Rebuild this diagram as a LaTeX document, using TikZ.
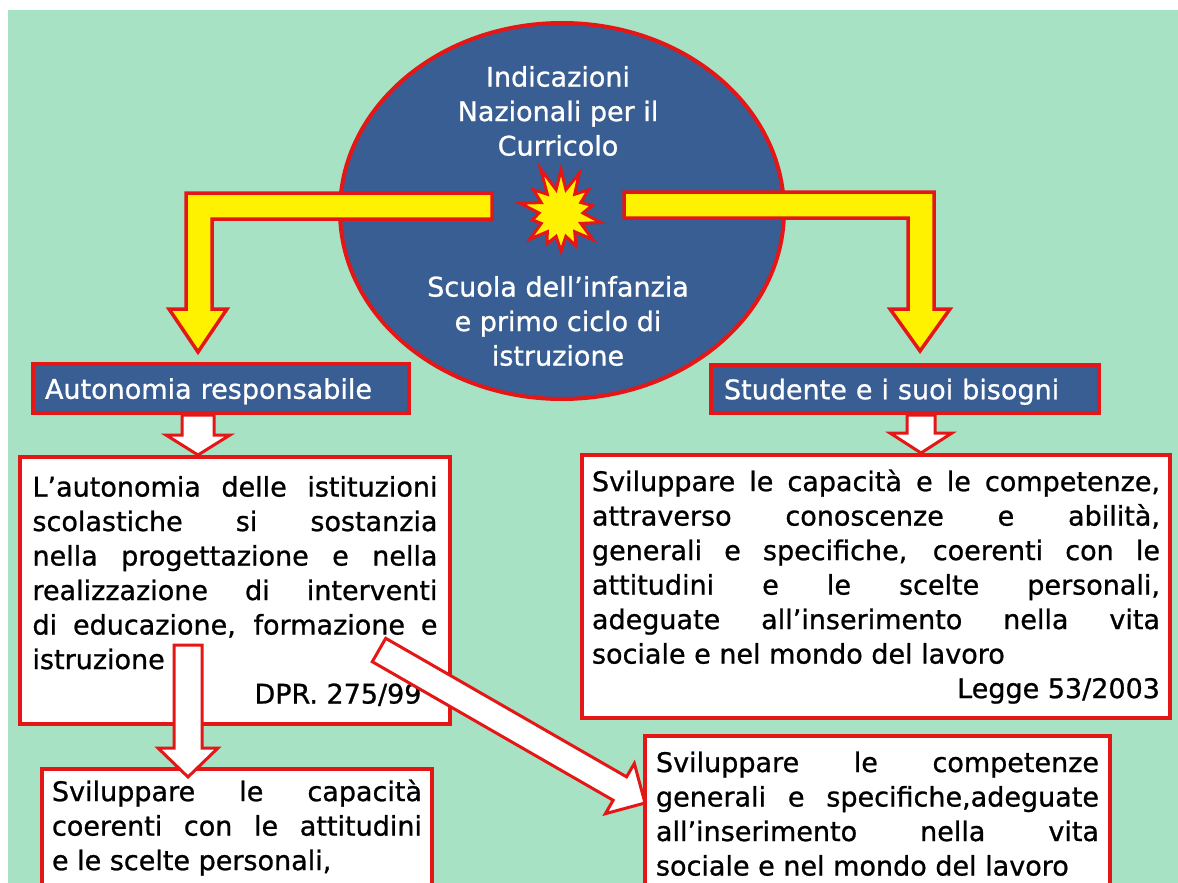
\documentclass[tikz,border=0pt]{standalone}
\usepackage{fontspec}
\setmainfont{DejaVu Sans}[FakeBold=0.9]
\usetikzlibrary{shapes.geometric, shapes.symbols, calc}
\definecolor{mint}{RGB}{168,226,196}
\definecolor{discblue}{RGB}{56,94,148}
\definecolor{redline}{RGB}{228,22,22}
\tikzset{
  font={\fontsize{27pt}{34.5pt}\selectfont},
  headbox/.style={draw=redline, line width=4pt, fill=discblue, text=white, anchor=north west, inner ysep=0pt, inner xsep=12pt, align=left, text depth=0pt},
  txtbox/.style={draw=redline, line width=4pt, fill=white, anchor=north west, inner ysep=0pt},
  yellowarrow/.style={draw=redline, line width=3.5pt, fill=yellow, line join=miter},
  whitearrow/.style={draw=redline, line width=3pt, fill=white, line join=miter}}
\newcommand{\jline}[1]{\makebox[\linewidth][s]{#1}\\}
\newcommand{\fatarrow}[5]{%
  \coordinate (fah) at ($(#2)!#5!(#1)$);
  \draw[whitearrow] ($(#1)!#3!90:(#2)$) -- ($(fah)!#3!90:(#2)$) -- ($(fah)!#4!90:(#2)$) -- (#2)
    -- ($(fah)!#4!-90:(#2)$) -- ($(fah)!#3!-90:(#2)$) -- ($(#1)!#3!-90:(#2)$) -- cycle;}

\begin{document}
\begin{tikzpicture}[x=1pt, y=-1pt]
\useasboundingbox (0,0) rectangle (1178,883);
\clip (0,0) rectangle (1178,883);
\fill[mint] (8,10) rectangle (1178,883);

\node[ellipse, draw=redline, line width=4pt, fill=discblue, minimum width=444pt, minimum height=376pt] (ind) at (562,211) {};
\node[text=white, align=center] (indtop) at (558,111) {Indicazioni\\Nazionali per il\\Curricolo};
\node[text=white, align=center] (indbot) at (558,321) {Scuola dell’infanzia\\e primo ciclo di\\istruzione};

\draw[yellowarrow] (492,193) -- (186,193) -- (186,309) -- (169,309) -- (198,352) -- (227,309) -- (212,309) -- (212,219) -- (492,219) -- cycle;
\draw[yellowarrow] (624,192) -- (934,192) -- (934,309) -- (950,309) -- (920,351) -- (890,309) -- (908,309) -- (908,218) -- (624,218) -- cycle;
\node[starburst, fill=yellow, draw=redline, line width=3pt, minimum width=96pt, minimum height=100pt,
      starburst points=14, starburst point height=26pt, random starburst=11] (burst) at (561,213) {};

\node[headbox, text width=352pt, minimum height=49pt] (autbox) at (31,362) {Autonomia responsabile};
\node[headbox, text width=362pt, inner xsep=13pt, minimum height=48pt] (stubox) at (709,363) {Studente e i suoi bisogni};

\node[txtbox, inner xsep=12.5pt] (leftbox) at (18,455) {\parbox[c][267pt][t]{405pt}{\vspace*{19pt}%
\jline{L’autonomia delle istituzioni}
\jline{scolastiche si sostanzia}
\jline{nella progettazione e nella}
\jline{realizzazione di interventi}
\jline{di educazione, formazione e}
istruzione\par
\hfill DPR. 275/99\hspace*{16pt}}};

\node[txtbox, inner xsep=10pt] (rightbox) at (580,453) {\parbox[c][263pt][t]{568pt}{\vspace*{14.5pt}%
\jline{Sviluppare le capacità e le competenze,}
\jline{attraverso conoscenze e abilità,}
\jline{generali e specifiche, coerenti con le}
\jline{attitudini e le scelte personali,}
\jline{adeguate all’inserimento nella vita}
sociale e nel mondo del lavoro\par
\hfill Legge 53/2003}};

\node[txtbox, inner xsep=10pt] (lowleft) at (40,767) {\parbox[c][140pt][t]{370pt}{\vspace*{10.5pt}%
\jline{Sviluppare le capacità}
\jline{coerenti con le attitudini}
e le scelte personali,}};

\node[txtbox, inner xsep=11pt] (lowright) at (643,734) {\parbox[c][170pt][t]{443pt}{\vspace*{15.5pt}%
\jline{Sviluppare le competenze}
\jline{generali e specifiche,adeguate}
\jline{all’inserimento nella vita}
sociale e nel mondo del lavoro}};

\coordinate (p1) at (198,0 |- autbox.south);
\coordinate (p2) at (198,0 |- leftbox.north);
\fatarrow{p1}{p2}{16pt}{32pt}{20pt}
\coordinate (q1) at (921,0 |- stubox.south);
\coordinate (q2) at (921,0 |- rightbox.north);
\fatarrow{q1}{q2}{14pt}{31pt}{20pt}
\coordinate (r1) at (188,645);
\coordinate (r2) at (188,777);
\fatarrow{r1}{r2}{14pt}{30pt}{29pt}
\coordinate (s1) at (379,650);
\coordinate (s2) at (645,803);
\fatarrow{s1}{s2}{13.5pt}{29pt}{29pt}
\end{tikzpicture}
\end{document}
